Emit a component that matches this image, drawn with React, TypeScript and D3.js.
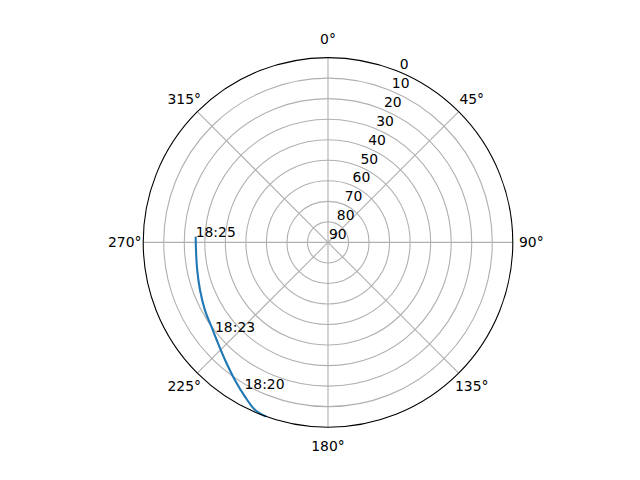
import * as d3 from "d3";

// Pass track: azimuth (deg, clockwise from north), altitude (deg)
const trackAz = [199.6, 203.5, 208.3, 214.1, 221.2, 228.75, 233.6, 241.2, 249.6, 258.1, 266.7, 272.5];
const trackAlt = [0.0, 1.0, 4.7, 9.1, 13.9, 17.9, 19.8, 21.6, 23.5, 24.9, 25.6, 25.5];

// Time annotations along the track
const stampTimes = ["18:20", "18:23", "18:25"];
const stampAz = [209.75, 231.5, 272.5];
const stampAlt = [8.0, 19.7, 25.5];

const thetaTicks = [0, 45, 90, 135, 180, 225, 270, 315];
const rTicks = [0, 10, 20, 30, 40, 50, 60, 70, 80, 90];

const W = 640;
const H = 480;
const cx = 328;
const cy = 242.4;
const R = 184.8;
const FONT = "DejaVu Sans, sans-serif";

export default function App() {
  const r = d3.scaleLinear().domain([90, 0]).range([0, R]);
  const rad = (deg: number) => (deg * Math.PI) / 180;
  const px = (az: number, d: number) => [d * Math.sin(rad(az)), -d * Math.cos(rad(az))];

  const pts = trackAz.map((a, i) => [a, trackAlt[i]] as [number, number]);
  const path = d3
    .lineRadial<[number, number]>()
    .curve(d3.curveCatmullRom)
    .angle((d) => rad(d[0]))
    .radius((d) => r(d[1]))(pts);

  const rLabelAngle = 22.5;

  return (
    <svg
      width={W}
      height={H}
      style={{ position: "fixed", left: 0, top: 0, background: "#fff" }}
      fontFamily={FONT}
    >
      <g transform={`translate(${cx},${cy})`}>
        {/* circular grid */}
        {rTicks
          .filter((t) => t > 0 && t < 90)
          .map((t) => (
            <circle key={t} r={r(t)} fill="none" stroke="#b0b0b0" strokeWidth={1.1} />
          ))}
        {/* spokes */}
        {thetaTicks.map((a) => {
          const [x, y] = px(a, R);
          return <line key={a} x1={0} y1={0} x2={x} y2={y} stroke="#b0b0b0" strokeWidth={1.1} />;
        })}
        {/* track */}
        <path d={path ?? ""} fill="none" stroke="#1f77b4" strokeWidth={2.1} />
        {/* spine */}
        <circle r={R} fill="none" stroke="#000" strokeWidth={1.1} />
        {/* theta labels */}
        {thetaTicks.map((a) => {
          const [x, y] = px(a, R + 18.5);
          return (
            <text key={a} x={x} y={y} fontSize={13.9} textAnchor="middle" dominantBaseline="central">
              {a}°
            </text>
          );
        })}
        {/* r labels */}
        {rTicks.map((t) => {
          const [x, y] = px(rLabelAngle, r(t));
          return (
            <text key={t} x={x + 1} y={y - 3} fontSize={13.9} textAnchor="start">
              {t}
            </text>
          );
        })}
        {/* time stamps */}
        {stampTimes.map((s, i) => {
          const [x, y] = px(stampAz[i], r(stampAlt[i]));
          return (
            <text key={s} x={x} y={y} fontSize={13.9} textAnchor="start">
              {s}
            </text>
          );
        })}
      </g>
    </svg>
  );
}
